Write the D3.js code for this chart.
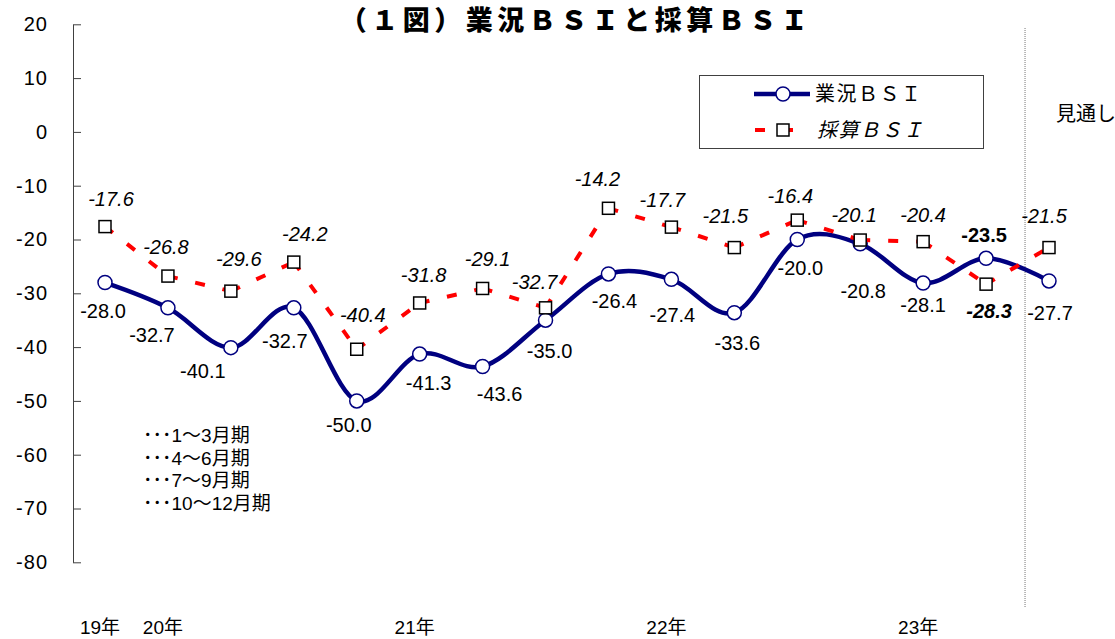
<!DOCTYPE html>
<html><head><meta charset="utf-8">
<script src="https://cdn.jsdelivr.net/npm/d3@7"></script>
<style>
html,body{margin:0;padding:0;background:#fff;}
svg{display:block;}
text{font-family:"Liberation Sans",Arial,"Noto Sans CJK JP",sans-serif;}
</style></head><body>
<svg id="chart" width="1115" height="639"></svg>
<script>
// Quarterly survey: 2019 Oct–Dec through 2023 Jul–Sep (the last quarter is the outlook)
const quarters = ["2019Q4","2020Q1","2020Q2","2020Q3","2020Q4","2021Q1","2021Q2","2021Q3",
                  "2021Q4","2022Q1","2022Q2","2022Q3","2022Q4","2023Q1","2023Q2","2023Q3"];
const yearLabels = ["19年","20年","","","","21年","","","","22年","","","","23年","",""];
const businessBSI = [-28.0,-32.7,-40.1,-32.7,-50.0,-41.3,-43.6,-35.0,-26.4,-27.4,-33.6,-20.0,-20.8,-28.1,-23.5,-27.7];
const profitBSI   = [-17.6,-26.8,-29.6,-24.2,-40.4,-31.8,-29.1,-32.7,-14.2,-17.7,-21.5,-16.4,-20.1,-20.4,-28.3,-21.5];
const yTicks = [20,10,0,-10,-20,-30,-40,-50,-60,-70,-80];
const seriesNames = ["業況ＢＳＩ","採算ＢＳＩ"];
const periodNotes = ["･･･1～3月期","･･･4～6月期","･･･7～9月期","･･･10～12月期"];
const latestIndex = 14;   // latest actual quarter, labels in bold
const outlookIndex = 15;  // forecast quarter

// label placement (dx, dy from the marker)
const businessLabelPos = [[-2,35],[-16,34],[-28,30],[-9,40],[-8,31],[9,36],[17,35],[4,38],
                          [6,34],[1,43],[3,37],[3,35],[3,54],[0,29],[-2,-16],[1,39]];
const profitLabelPos   = [[6,-21],[-2,-22],[8,-25],[11,-21],[6,-27],[4,-21],[5,-22],[-11,-19],
                          [-11,-22],[-9,-20],[-9,-25],[-7,-17],[-6,-18],[0,-20],[3,34],[-5,-25]];

const svg = d3.select("#chart");
const navy = "#000080", red = "#ff0000";

const x = d3.scalePoint().domain(quarters).range([105, 1049]);
const y = d3.scaleLinear().domain([-80, 20]).range([562.3, 24.3]);

// title
svg.append("text")
  .attr("x", 576).attr("y", 30)
  .attr("text-anchor", "middle")
  .style("font-family", "'Noto Sans CJK JP',sans-serif")
  .style("font-weight", "900").style("font-size", "27px").style("letter-spacing", "4.5px")
  .text("（１図）業況ＢＳＩと採算ＢＳＩ");

// y axis with inward ticks
const yAxis = svg.append("g").attr("transform", "translate(73,0)")
  .call(d3.axisLeft(y).tickValues(yTicks).tickSizeInner(-8).tickSizeOuter(0)
        .tickPadding(25).tickFormat(d => String(d)));
yAxis.select(".domain").attr("stroke", "#404040");
yAxis.selectAll(".tick line").attr("stroke", "#404040");
yAxis.selectAll(".tick text").attr("fill", "#000")
  .style("font-size", "20px").style("letter-spacing", "1px")
  .style("font-family", "'Liberation Sans',Arial,sans-serif");

// year labels along the bottom
svg.append("g").selectAll("text")
  .data(quarters.filter((q, i) => yearLabels[i] !== ""))
  .join("text")
  .attr("x", q => x(q) - 5).attr("y", 634)
  .attr("text-anchor", "middle")
  .style("font-size", "19px")
  .text(q => yearLabels[quarters.indexOf(q)]);

// divider before the outlook quarter
const divX = (x(quarters[latestIndex]) + x(quarters[outlookIndex])) / 2 + 7.5;
svg.append("line")
  .attr("x1", divX).attr("x2", divX).attr("y1", 28).attr("y2", 607)
  .attr("stroke", "#777").attr("stroke-width", 1).attr("stroke-dasharray", "1,1");
svg.append("text").attr("x", 1056).attr("y", 121)
  .style("font-size", "20px").style("font-family", "'Noto Sans CJK JP',sans-serif")
  .text("見通し");

// business BSI: smoothed navy line
const line = d3.line()
  .x((d, i) => x(quarters[i])).y(d => y(d))
  .curve(d3.curveCardinal.tension(0));
svg.append("path").datum(businessBSI)
  .attr("d", line).attr("fill", "none")
  .attr("stroke", navy).attr("stroke-width", 4.5).attr("stroke-linejoin", "round");
svg.append("g").selectAll("circle").data(businessBSI).join("circle")
  .attr("cx", (d, i) => x(quarters[i])).attr("cy", d => y(d)).attr("r", 7)
  .attr("fill", "#fff").attr("stroke", navy).attr("stroke-width", 1.5);

// profit BSI: red dashed segments, pattern restarts at each point
const segs = d3.pairs(profitBSI.map((v, i) => [x(quarters[i]), y(v)]));
svg.append("g").selectAll("line").data(segs).join("line")
  .attr("x1", s => s[0][0]).attr("y1", s => s[0][1])
  .attr("x2", s => s[1][0]).attr("y2", s => s[1][1])
  .attr("stroke", red).attr("stroke-width", 4).attr("stroke-dasharray", "10,18");
svg.append("g").selectAll("rect").data(profitBSI).join("rect")
  .attr("x", (d, i) => x(quarters[i]) - 6).attr("y", d => y(d) - 6)
  .attr("width", 12).attr("height", 12)
  .attr("fill", "#fff").attr("stroke", "#000").attr("stroke-width", 1.5);

// value labels
const fmt = d3.format(".1f");
const hy = v => fmt(v).replace("−", "-");
svg.append("g").selectAll("text").data(businessBSI).join("text")
  .attr("x", (d, i) => x(quarters[i]) + businessLabelPos[i][0])
  .attr("y", (d, i) => y(d) + businessLabelPos[i][1])
  .attr("text-anchor", "middle")
  .style("font-size", "20px")
  .style("font-weight", (d, i) => i === latestIndex ? "bold" : "normal")
  .text(hy);
svg.append("g").selectAll("text").data(profitBSI).join("text")
  .attr("x", (d, i) => x(quarters[i]) + profitLabelPos[i][0])
  .attr("y", (d, i) => y(d) + profitLabelPos[i][1])
  .attr("text-anchor", "middle")
  .style("font-size", "20px").style("font-style", "italic")
  .style("font-weight", (d, i) => i === latestIndex ? "bold" : "normal")
  .text(hy);

// legend
const lg = svg.append("g");
lg.append("rect").attr("x", 699.5).attr("y", 75.5).attr("width", 284).attr("height", 73)
  .attr("fill", "#fff").attr("stroke", "#404040").attr("stroke-width", 1);
lg.append("line").attr("x1", 754).attr("x2", 810).attr("y1", 94).attr("y2", 94)
  .attr("stroke", navy).attr("stroke-width", 4.5);
lg.append("circle").attr("cx", 783).attr("cy", 94).attr("r", 7)
  .attr("fill", "#fff").attr("stroke", navy).attr("stroke-width", 1.5);
lg.append("line").attr("x1", 755).attr("x2", 811).attr("y1", 130).attr("y2", 130)
  .attr("stroke", red).attr("stroke-width", 4).attr("stroke-dasharray", "10,18");
lg.append("rect").attr("x", 777).attr("y", 124).attr("width", 12).attr("height", 12)
  .attr("fill", "#fff").attr("stroke", "#000").attr("stroke-width", 1.5);
lg.append("text").attr("x", 815).attr("y", 101)
  .style("font-size", "20px").style("letter-spacing", "1.5px")
  .style("font-family", "'Noto Sans CJK JP',sans-serif")
  .text(seriesNames[0]);
lg.append("text").attr("x", 817).attr("y", 137)
  .style("font-size", "20px").style("letter-spacing", "1.5px").style("font-style", "italic")
  .style("font-family", "'Noto Sans CJK JP',sans-serif")
  .text(seriesNames[1]);

// quarter legend notes
svg.append("g").selectAll("text").data(periodNotes).join("text")
  .attr("x", 143).attr("y", (d, i) => 442 + i * 22.7)
  .style("font-size", "19px")
  .text(d => d);
</script>
</body></html>
